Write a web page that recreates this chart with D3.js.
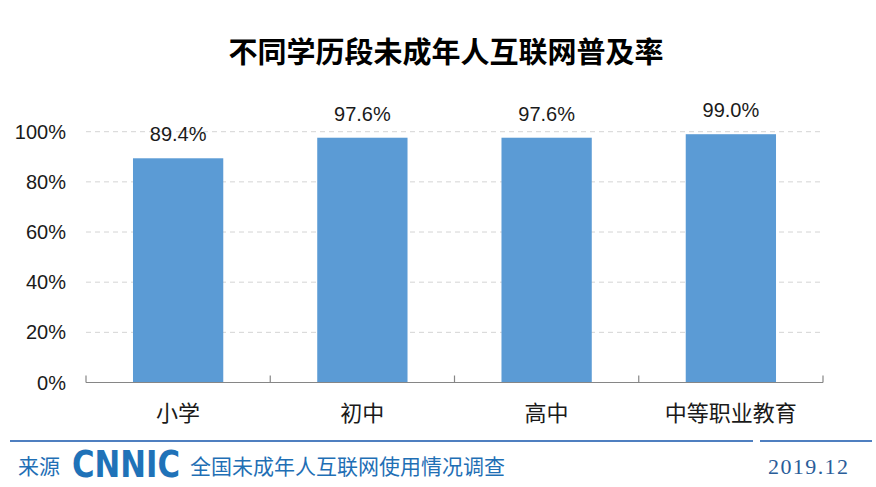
<!DOCTYPE html>
<html><head><meta charset="utf-8">
<script src="https://cdn.jsdelivr.net/npm/d3@7"></script>
<style>body{margin:0;background:#fff}svg{display:block}</style>
</head><body>
<script>
const categories = ["小学", "初中", "高中", "中等职业教育"];
const values = [0.894, 0.976, 0.976, 0.990];
const valueLabels = ["89.4%", "97.6%", "97.6%", "99.0%"];
const yTicks = [0, 0.2, 0.4, 0.6, 0.8, 1.0];
const title = "不同学历段未成年人互联网普及率";
const sourceLabel = "来源";
const sourceText = "全国未成年人互联网使用情况调查";
const dateText = "2019.12";

const W = 876, H = 487;
const svg = d3.select("body").append("svg").attr("width", W).attr("height", H);
svg.append("rect").attr("width", W).attr("height", H).attr("fill", "#fff");

const x = d3.scaleBand().domain(categories).range([86, 823]).paddingInner(0.51).paddingOuter(0.255);
const y = d3.scaleLinear().domain([0, 1]).range([382.5, 131.7]);

// gridlines
svg.append("g").selectAll("line").data(yTicks.filter(d => d > 0)).join("line")
  .attr("x1", 86).attr("x2", 823).attr("y1", d => y(d)).attr("y2", d => y(d))
  .attr("stroke", "#d4d4d4").attr("stroke-width", 1).attr("stroke-dasharray", "5,4");

// bars
svg.append("g").selectAll("rect").data(values).join("rect")
  .attr("x", (d, i) => x(categories[i])).attr("width", x.bandwidth())
  .attr("y", d => y(d)).attr("height", d => y(0) - y(d)).attr("fill", "#5b9bd5");

// value labels
svg.append("g").selectAll("text").data(values).join("text")
  .attr("x", (d, i) => x(categories[i]) + x.bandwidth() / 2).attr("y", d => y(d) - 17)
  .attr("text-anchor", "middle").attr("font-family", "Liberation Sans, Arial, sans-serif")
  .attr("font-size", 20).attr("fill", "#1a1a1a").text((d, i) => valueLabels[i]);

// y axis labels
svg.append("g").selectAll("text").data(yTicks).join("text")
  .attr("x", 66).attr("y", d => y(d) + 7).attr("text-anchor", "end")
  .attr("font-family", "Liberation Sans, Arial, sans-serif").attr("font-size", 20)
  .attr("fill", "#1a1a1a").text(d => d3.format(".0%")(d));

// x axis line and ticks
const ax = svg.append("g");
ax.append("line").attr("x1", 86).attr("x2", 823).attr("y1", y(0)).attr("y2", y(0))
  .attr("stroke", "#868686").attr("stroke-width", 1.2);
const bounds = categories.map(c => x(c) - x.step() * x.paddingInner() / 2).concat([823]);
bounds[0] = 86;
ax.selectAll("line.tk").data(bounds).join("line").attr("class", "tk")
  .attr("x1", d => d).attr("x2", d => d).attr("y1", y(0) - 7).attr("y2", y(0))
  .attr("stroke", "#868686").attr("stroke-width", 1.2);
ax.selectAll("text").data(categories).join("text")
  .attr("x", d => x(d) + x.bandwidth() / 2).attr("y", 421).attr("text-anchor", "middle")
  .attr("font-family", "Noto Sans CJK SC, sans-serif").attr("font-size", 22)
  .attr("fill", "#1a1a1a").text(d => d);

// title
svg.append("text").attr("x", 446).attr("y", 63).attr("text-anchor", "middle")
  .attr("font-family", "Noto Sans CJK SC, sans-serif").attr("font-weight", "bold")
  .attr("font-size", 29).attr("fill", "#000").text(title);

// footer
svg.append("line").attr("x1", 10).attr("x2", 753).attr("y1", 441).attr("y2", 441)
  .attr("stroke", "#4f7fc0").attr("stroke-width", 2);
svg.append("line").attr("x1", 760).attr("x2", 872).attr("y1", 441).attr("y2", 441)
  .attr("stroke", "#4f7fc0").attr("stroke-width", 2);
svg.append("text").attr("x", 18).attr("y", 474).attr("font-family", "Noto Sans CJK SC, sans-serif")
  .attr("font-size", 21).attr("fill", "#1f6fb5").text(sourceLabel);
svg.append("text").attr("x", 72).attr("y", 477).attr("font-family", "DejaVu Sans, sans-serif")
  .attr("font-weight", "bold").attr("font-size", 37).attr("fill", "#1f72b8")
  .attr("textLength", 108).attr("lengthAdjust", "spacingAndGlyphs").text("CNNIC");
svg.append("text").attr("x", 190).attr("y", 474).attr("font-family", "Noto Sans CJK SC, sans-serif")
  .attr("font-size", 21).attr("fill", "#1f6fb5").text(sourceText);
svg.append("text").attr("x", 768).attr("y", 474).attr("font-family", "Liberation Serif, serif")
  .attr("font-size", 22).attr("fill", "#2a5d99").attr("textLength", 80).text(dateText);
</script>
</body></html>
